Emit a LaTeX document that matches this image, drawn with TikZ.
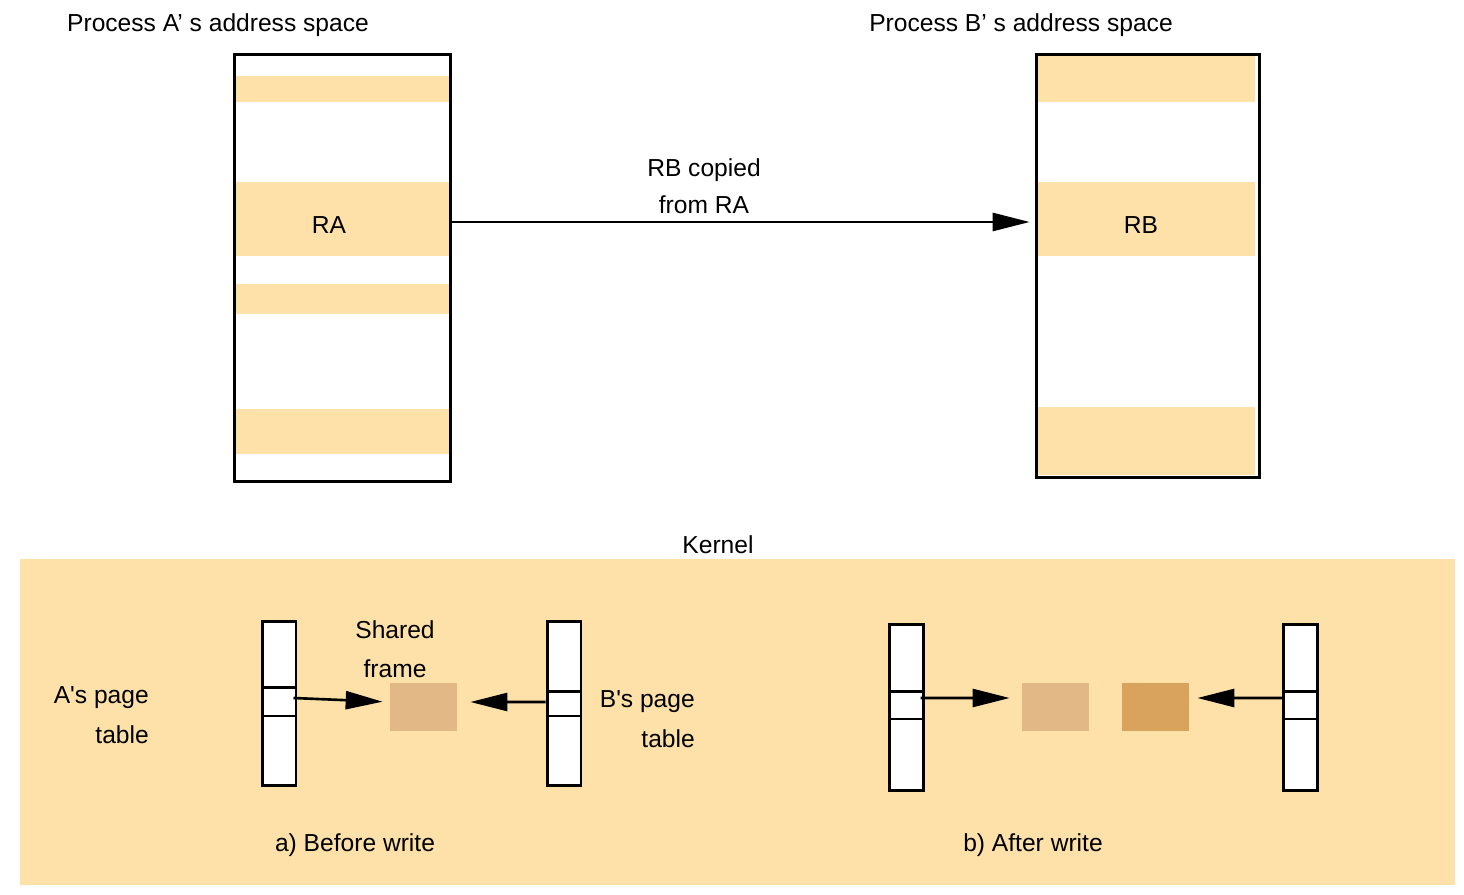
\documentclass[tikz,border=0pt]{standalone}
\usepackage{fontspec}
\setmainfont{Liberation Sans}
\usetikzlibrary{positioning}
\usetikzlibrary{arrows.meta}
\definecolor{bandcol}{HTML}{FDE1A8}
\definecolor{framelight}{HTML}{E1B886}
\definecolor{framedark}{HTML}{D9A35D}
\begin{document}
\begin{tikzpicture}[x=0.02cm, y=-0.02cm, font=\fontsize{14}{16.8}\selectfont,
  band/.style={fill=bandcol, inner sep=0pt, minimum width=4.3cm},
  spacebox/.style={draw, line width=1.7pt, inner sep=0pt},
  ptable/.style={draw, fill=white, line width=1.7pt, inner sep=0pt, minimum width=0.68cm},
  frame/.style={inner sep=0pt, minimum width=1.34cm, minimum height=0.96cm},
  twoline/.style={font=\fontsize{14}{22.5}\selectfont},
  bigtip/.style={-{Triangle[length=0.74cm, width=0.36cm]}, line width=1.5pt}]
\useasboundingbox (0,0) rectangle (1464,895);
% user address spaces
\node (titleA) at (218,25) {Process A’ s address space};
\node (titleB) at (1021,25) {Process B’ s address space};
\foreach \yc/\h in {89/0.52, 299/0.6, 431.5/0.9}
  \node[band, minimum height=\h cm] at (343.5,\yc) {};
\node[band, minimum height=1.48cm] (ra) at (343.5,219) {};
\node (ralbl) at (329,225) {RA};
\foreach \yc/\h in {79/0.92, 441/1.36}
  \node[band, minimum width=4.34cm, minimum height=\h cm] at (1146.5,\yc) {};
\node[band, minimum width=4.34cm, minimum height=1.48cm] (rb) at (1146.5,219) {};
\node (rblbl) at (1141,225) {RB};
\node[spacebox, minimum width=4.34cm, minimum height=8.56cm] (spaceA) at (342.5,268) {};
\node[spacebox, minimum width=4.48cm, minimum height=8.48cm] (spaceB) at (1148,266) {};
\draw[bigtip, shorten >=0.16cm] ([yshift=-0.06cm]ra.east) -- ([yshift=-0.06cm]rb.west);
\node[align=center, font=\fontsize{14}{21}\selectfont] (copied) at (704,186) {RB copied\\from RA};
% kernel
\node (kernel) at (718,545) {Kernel};
\fill[bandcol] (20,559) rectangle (1455,885);
% a) before write
\node[ptable, minimum height=3.3cm] (ptA) at (279,703.5) {};
\node[ptable, minimum height=0.58cm] (entA) at (279,701.5) {};
\node[frame, fill=framelight] (shared) at (423.5,707) {};
\node[ptable, minimum height=3.3cm] (ptB) at (564,703.5) {};
\node[ptable, minimum height=0.5cm] (entB) at (564,703.5) {};
\draw[bigtip, shorten >=0.14cm] ([xshift=-0.08cm, yshift=0.07cm]entA.east) -- ([yshift=0.1cm]shared.west);
\draw[bigtip, shorten >=0.26cm] ([yshift=0.03cm]entB.west) -- ([yshift=0.1cm]shared.east);
\node[align=center, twoline] (sharedlbl) at (395,649) {Shared\\frame};
\node[align=right, twoline, anchor=east] (lblA) at (155,715) {A\textquotesingle s page\\table};
\node[align=right, twoline, anchor=east] (lblB) at (701,719) {B\textquotesingle s page\\table};
\node (beforelbl) at (355,845) {a) Before write};
% b) after write
\node[ptable, minimum height=3.34cm] (ptA2) at (906,707.5) {};
\node[ptable, minimum height=0.56cm] (entA2) at (906,705) {};
\node[frame, fill=framelight] (oldframe) at (1055.5,707) {};
\node[frame, fill=framedark] (newframe) at (1155.5,707) {};
\node[ptable, minimum height=3.34cm] (ptB2) at (1300.5,707.5) {};
\node[ptable, minimum height=0.56cm] (entB2) at (1300.5,705) {};
\draw[bigtip, shorten >=0.24cm] ([xshift=-0.08cm, yshift=0.14cm]entA2.east) -- ([yshift=0.18cm]oldframe.west);
\draw[bigtip, shorten >=0.16cm] ([yshift=0.14cm]entB2.west) -- ([yshift=0.18cm]newframe.east);
\node (afterlbl) at (1033,845) {b) After write};
\end{tikzpicture}
\end{document}
